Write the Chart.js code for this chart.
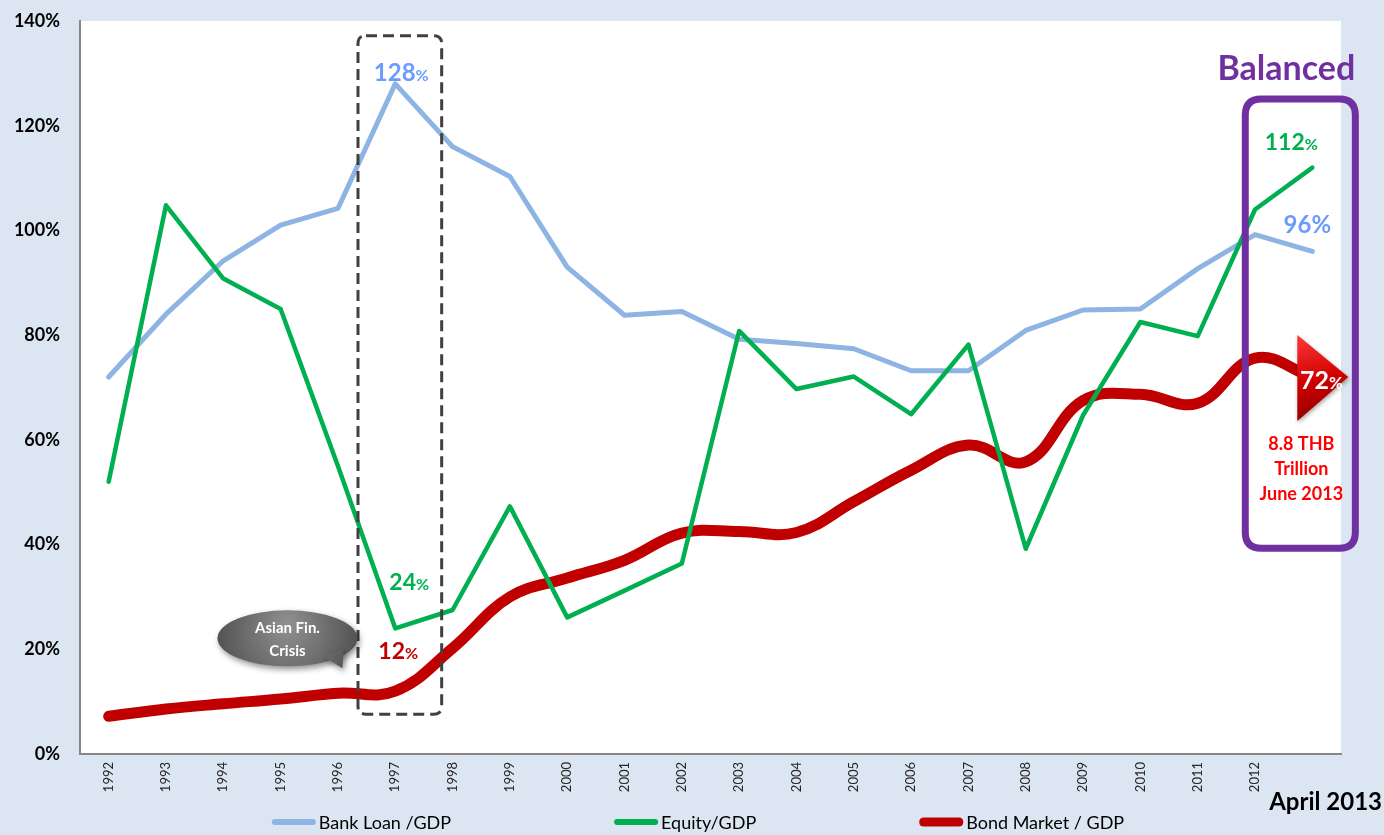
<!DOCTYPE html>
<html>
<head>
<meta charset="utf-8">
<title>Thailand financial market depth</title>
<script src="https://cdn.jsdelivr.net/npm/chart.js@4.4.0/dist/chart.umd.min.js"></script>
<style>
  html, body { margin: 0; padding: 0; background: #dce6f2; }
  #wrap { width: 1384px; height: 835px; }
</style>
</head>
<body>
<div id="wrap"><canvas id="depth-chart" width="1384" height="835"></canvas></div>
<script>
// last slot is April 2013 (no axis label)
const years = ["1992", "1993", "1994", "1995", "1996", "1997", "1998", "1999", "2000", "2001", "2002",
  "2003", "2004", "2005", "2006", "2007", "2008", "2009", "2010", "2011", "2012", ""];
const bankLoanGdp = [72, 84, 94.2, 101, 104.2, 128, 116, 110.3, 93, 83.8, 84.5,
  79.2, 78.4, 77.4, 73.2, 73.2, 80.9, 84.8, 85, 92.7, 99.2, 96];
const equityGdp = [52, 104.8, 90.8, 85, 55, 24, 27.5, 47.3, 26.1, 31.2, 36.4,
  80.8, 69.7, 72.1, 64.9, 78.2, 39.2, 64.7, 82.5, 79.8, 104, 112];
const bondMarketGdp = [7.2, 8.6, 9.6, 10.5, 11.6, 12, 20.2, 30, 33.6, 37, 42.2,
  42.5, 42.3, 48.2, 54.2, 59, 55.8, 67.5, 68.7, 67, 75.6, 72];
const yMax = 140;
const yStep = 20;

const FONT = "Lato, 'Open Sans', sans-serif";
const colors = {
  page: "#dce6f2",
  bank: "#8db4e2",
  bankText: "#6b9bff",
  equity: "#00b050",
  bond: "#c00000",
  axis: "#868686",
  purple: "#7030a0",
  red: "#ff0000",
};

// helpers -------------------------------------------------------------
function roundRectPath(ctx, x, y, w, h, r) {
  ctx.beginPath();
  ctx.moveTo(x + r, y);
  ctx.lineTo(x + w - r, y);
  ctx.quadraticCurveTo(x + w, y, x + w, y + r);
  ctx.lineTo(x + w, y + h - r);
  ctx.quadraticCurveTo(x + w, y + h, x + w - r, y + h);
  ctx.lineTo(x + r, y + h);
  ctx.quadraticCurveTo(x, y + h, x, y + h - r);
  ctx.lineTo(x, y + r);
  ctx.quadraticCurveTo(x, y, x + r, y);
  ctx.closePath();
}

// number in big type followed by a smaller "%", centred on x
function pctLabel(ctx, value, x, y, color, big, small) {
  const num = String(Math.round(value));
  ctx.font = `bold ${big}px ${FONT}`;
  const w1 = ctx.measureText(num).width;
  ctx.font = `bold ${small}px ${FONT}`;
  const w2 = ctx.measureText("%").width;
  const sx = x - (w1 + w2) / 2;
  ctx.fillStyle = color;
  ctx.textAlign = "left";
  ctx.textBaseline = "alphabetic";
  ctx.font = `bold ${big}px ${FONT}`;
  ctx.fillText(num, sx, y);
  ctx.font = `bold ${small}px ${FONT}`;
  ctx.fillText("%", sx + w1, y);
}

// plugins -------------------------------------------------------------
const chartBackground = {
  id: "chartBackground",
  beforeDraw(chart) {
    const { ctx, chartArea: a } = chart;
    ctx.save();
    ctx.fillStyle = colors.page;
    ctx.fillRect(0, 0, chart.width, chart.height);
    ctx.fillStyle = "#ffffff";
    ctx.fillRect(a.left, a.top, a.right - a.left, a.bottom - a.top);
    ctx.restore();
  },
};

const callouts = {
  id: "callouts",
  afterDatasetsDraw(chart) {
    const { ctx } = chart;
    const x = chart.scales.x;
    const y = chart.scales.y;
    const last = years.length - 1;
    const crisis = years.indexOf("1997");
    ctx.save();

    // Asian crisis box
    const bx0 = x.getPixelForValue(crisis - 0.65);
    const bx1 = x.getPixelForValue(crisis + 0.81);
    const by0 = y.getPixelForValue(137.2);
    const by1 = y.getPixelForValue(7.6);
    ctx.setLineDash([11, 6]);
    ctx.lineWidth = 3;
    ctx.strokeStyle = "#404040";
    roundRectPath(ctx, bx0, by0, bx1 - bx0, by1 - by0, 8);
    ctx.stroke();
    ctx.setLineDash([]);

    const cx = x.getPixelForValue(crisis);
    pctLabel(ctx, bankLoanGdp[crisis], cx + 6, y.getPixelForValue(bankLoanGdp[crisis]) - 3, colors.bankText, 24, 16);
    pctLabel(ctx, equityGdp[crisis], cx + 14, y.getPixelForValue(equityGdp[crisis]) - 38, colors.equity, 23, 16);
    pctLabel(ctx, bondMarketGdp[crisis], cx + 3, y.getPixelForValue(bondMarketGdp[crisis]) - 32, colors.bond, 23, 16);

    // speech bubble
    const ex = x.getPixelForValue(3.12);
    const ey = y.getPixelForValue(22.1);
    ctx.save();
    ctx.shadowColor = "rgba(0,0,0,0.45)";
    ctx.shadowBlur = 6;
    ctx.shadowOffsetX = 2;
    ctx.shadowOffsetY = 3;
    const grad = ctx.createRadialGradient(ex, ey - 14, 6, ex, ey, 80);
    grad.addColorStop(0, "#8c8c8c");
    grad.addColorStop(1, "#4a4a4a");
    ctx.fillStyle = grad;
    ctx.beginPath();
    ctx.ellipse(ex, ey, 70, 28, 0, 0, Math.PI * 2);
    ctx.fill();
    ctx.beginPath();
    ctx.moveTo(ex + 36, ey + 18);
    ctx.lineTo(ex + 55, ey + 30);
    ctx.lineTo(ex + 56, ey + 10);
    ctx.closePath();
    ctx.fill();
    ctx.restore();
    ctx.fillStyle = "#ffffff";
    ctx.textAlign = "center";
    ctx.textBaseline = "middle";
    ctx.font = `bold 15px ${FONT}`;
    ctx.fillText("Asian Fin.", ex, ey - 10);
    ctx.fillText("Crisis", ex, ey + 13);

    // balanced box
    const px0 = x.getPixelForValue(19.83);
    const px1 = x.getPixelForValue(21.75);
    const py0 = y.getPixelForValue(125.1);
    const py1 = y.getPixelForValue(39.3);
    ctx.lineWidth = 7;
    ctx.strokeStyle = colors.purple;
    roundRectPath(ctx, px0, py0, px1 - px0, py1 - py0, 16);
    ctx.stroke();
    ctx.fillStyle = colors.purple;
    ctx.font = `bold 34px ${FONT}`;
    ctx.textAlign = "center";
    ctx.textBaseline = "middle";
    ctx.fillText("Balanced", (px0 + px1) / 2 - 14, y.getPixelForValue(130.8));

    const lx = x.getPixelForValue(last);
    pctLabel(ctx, equityGdp[last], lx - 21, y.getPixelForValue(equityGdp[last]) - 18, colors.equity, 23, 16);
    pctLabel(ctx, bankLoanGdp[last], lx - 5, y.getPixelForValue(bankLoanGdp[last]) - 18, colors.bankText, 24, 24);

    // bond arrow at the latest reading
    const ay = y.getPixelForValue(bondMarketGdp[last]);
    const ax0 = lx - 15;
    const ax1 = lx + 36;
    const ag = ctx.createLinearGradient(ax0, ay - 43, ax0 + 20, ay + 43);
    ag.addColorStop(0, "#ff3a3a");
    ag.addColorStop(0.55, "#d10000");
    ag.addColorStop(1, "#8e0000");
    ctx.save();
    ctx.shadowColor = "rgba(0,0,0,0.35)";
    ctx.shadowBlur = 4;
    ctx.shadowOffsetX = 1;
    ctx.shadowOffsetY = 2;
    ctx.fillStyle = ag;
    ctx.beginPath();
    ctx.moveTo(ax0, ay - 42);
    ctx.lineTo(ax1, ay);
    ctx.lineTo(ax0, ay + 44);
    ctx.closePath();
    ctx.fill();
    ctx.restore();
    pctLabel(ctx, bondMarketGdp[last], lx + 9, ay + 12, "#ffffff", 25, 17);

    ctx.fillStyle = colors.red;
    ctx.font = `bold 18px ${FONT}`;
    ctx.textAlign = "center";
    ctx.textBaseline = "middle";
    ["8.8 THB", "Trillion", "June 2013"].forEach((t, i) => {
      ctx.fillText(t, lx - 11, ay + 67 + i * 25);
    });

    ctx.restore();
  },
};

const bottomLegend = {
  id: "bottomLegend",
  afterDraw(chart) {
    const { ctx } = chart;
    ctx.save();
    ctx.font = `18px ${FONT}`;
    ctx.textBaseline = "middle";
    ctx.textAlign = "left";
    const sample = 44;
    const gap = 163;
    const items = chart.data.datasets.map((ds) => ({
      text: ds.label,
      color: ds.borderColor,
      thick: ds.borderWidth > 6 ? 9 : 6,
      w: sample + 3 + ctx.measureText(ds.label).width,
    }));
    const total = items.reduce((s, it) => s + it.w, 0) + gap * (items.length - 1);
    let sx = chart.width / 2 + 6 - total / 2;
    const ly = 822;
    items.forEach((it) => {
      ctx.fillStyle = it.color;
      roundRectPath(ctx, sx, ly - it.thick / 2, sample, it.thick, it.thick / 2);
      ctx.fill();
      ctx.fillStyle = "#000000";
      ctx.fillText(it.text, sx + sample + 3, ly + 1);
      sx += it.w + gap;
    });

    ctx.font = `bold 24px ${FONT}`;
    ctx.textAlign = "right";
    ctx.fillText("April 2013", chart.width - 2, 802);
    ctx.restore();
  },
};

new Chart(document.getElementById("depth-chart"), {
  type: "line",
  data: {
    labels: years,
    datasets: [
      {
        label: "Bank Loan /GDP",
        data: bankLoanGdp,
        borderColor: colors.bank,
        backgroundColor: colors.bank,
        borderWidth: 5,
        tension: 0,
        order: 2,
      },
      {
        label: "Equity/GDP",
        data: equityGdp,
        borderColor: colors.equity,
        backgroundColor: colors.equity,
        borderWidth: 4.5,
        tension: 0,
        order: 0,
      },
      {
        label: "Bond Market / GDP",
        data: bondMarketGdp,
        borderColor: colors.bond,
        backgroundColor: colors.bond,
        borderWidth: 11,
        tension: 0.4,
        order: 1,
      },
    ],
  },
  options: {
    responsive: false,
    animation: false,
    devicePixelRatio: 1,
    layout: { padding: { top: 21, right: 43, bottom: 36, left: 0 } },
    elements: {
      point: { radius: 0, hoverRadius: 0 },
      line: { borderCapStyle: "round", borderJoinStyle: "round" },
    },
    scales: {
      x: {
        offset: true,
        grid: { display: false, drawTicks: false, offset: true },
        border: { color: colors.axis, width: 2 },
        ticks: {
          autoSkip: false,
          minRotation: 90,
          maxRotation: 90,
          padding: 8,
          color: "#262626",
          font: { family: FONT, size: 13 },
        },
        afterFit: (scale) => { scale.height = 45; },
      },
      y: {
        min: 0,
        max: yMax,
        grid: { display: false, drawTicks: false },
        border: { color: colors.axis, width: 2 },
        ticks: {
          stepSize: yStep,
          padding: 20,
          color: "#000000",
          font: { family: FONT, size: 18, weight: "bold" },
          callback: (v) => v + "%",
        },
        afterFit: (scale) => {
          scale.width = 80;
          // tick padding should only push labels left, not shrink the plot
          scale.paddingTop = 0;
          scale.paddingBottom = 0;
        },
      },
    },
    plugins: {
      legend: { display: false },
      tooltip: { enabled: false },
    },
  },
  plugins: [chartBackground, callouts, bottomLegend],
});
</script>
</body>
</html>
